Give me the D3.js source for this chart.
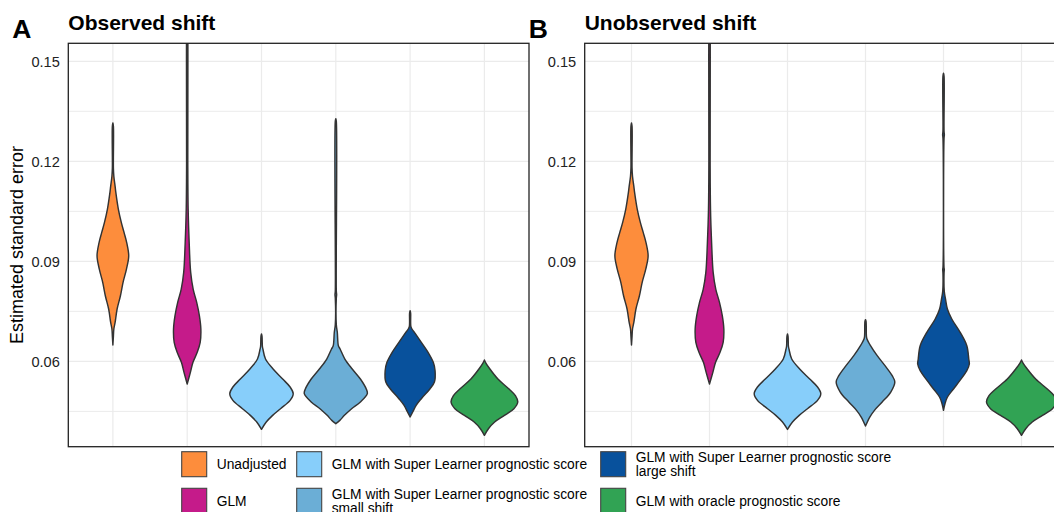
<!DOCTYPE html>
<html>
<head>
<meta charset="utf-8">
<script src="https://cdn.jsdelivr.net/npm/d3@7"></script>
<style>
  body { margin: 0; background: #fff; }
  svg { display: block; font-family: "Liberation Sans", Arial, Helvetica, sans-serif; }
</style>
</head>
<body>
<svg id="chart" width="1054" height="512"></svg>
<script>
// categories and fill colours
var methods = [
  "Unadjusted",
  "GLM",
  "GLM with Super Learner prognostic score",
  "GLM with Super Learner prognostic score\nsmall shift",
  "GLM with Super Learner prognostic score\nlarge shift",
  "GLM with oracle prognostic score"
];
var colors = ["#FD8D3C", "#C51B8A", "#87CEFA", "#6BAED6", "#08519C", "#31A354"];

var yTicks = [0.06, 0.09, 0.12, 0.15];
var yMinor = [0.045, 0.075, 0.105, 0.135];
var yDomain = [0.0344, 0.1554];

// violin outlines: [standard error, half width in category units]
var unadjusted = [[0.1315,0],[0.1305,0.007],[0.118,0.007],[0.1155,0.013],[0.1125,0.03],[0.1106,0.04],
  [0.1056,0.074],[0.1016,0.114],[0.0986,0.151],[0.0956,0.186],[0.0916,0.213],[0.0876,0.182],
  [0.0837,0.137],[0.0796,0.101],[0.0757,0.057],[0.0717,0.03],[0.0697,0.013],[0.0675,0.007],[0.0649,0]];
var glm = [[0.19,0],[0.185,0.008],[0.12,0.008],[0.1056,0.013],[0.0956,0.027],[0.0867,0.047],
  [0.0816,0.081],[0.0777,0.128],[0.0737,0.164],[0.0697,0.184],[0.0657,0.175],[0.0627,0.135],
  [0.0597,0.078],[0.0567,0.043],[0.0532,0]];
var slScore = [[0.0682,0],[0.0675,0.007],[0.0645,0.012],[0.0637,0.019],[0.0607,0.054],[0.0577,0.156],
  [0.0547,0.285],[0.0523,0.385],[0.0503,0.427],[0.0483,0.385],[0.0458,0.256],[0.0438,0.15],
  [0.0418,0.064],[0.0396,0]];
var oracle = [[0.0604,0],[0.0595,0.02],[0.0577,0.074],[0.0547,0.182],[0.0517,0.331],[0.0497,0.417],
  [0.0478,0.449],[0.0458,0.397],[0.0438,0.269],[0.0418,0.138],[0.0398,0.054],[0.0378,0]];
var smallObserved = [[0.1328,0],[0.132,0.007],[0.081,0.007],[0.08,0.011],[0.079,0.007],[0.071,0.007],
  [0.0688,0.02],[0.0647,0.035],[0.0637,0.058],[0.0607,0.122],[0.0577,0.221],[0.0547,0.331],
  [0.0517,0.41],[0.0503,0.424],[0.0478,0.331],[0.0458,0.213],[0.0438,0.116],[0.0423,0.054],[0.0413,0]];
var largeObserved = [[0.0752,0],[0.0745,0.007],[0.0705,0.01],[0.0697,0.025],[0.0687,0.058],[0.0657,0.151],
  [0.0627,0.242],[0.0597,0.312],[0.0572,0.336],[0.0538,0.327],[0.0517,0.266],[0.0488,0.151],
  [0.0468,0.081],[0.0448,0.035],[0.0433,0]];
var smallUnobserved = [[0.0725,0],[0.072,0.007],[0.0675,0.012],[0.0667,0.019],[0.0647,0.064],[0.0617,0.15],
  [0.0587,0.25],[0.0557,0.342],[0.0538,0.376],[0.0508,0.324],[0.0478,0.214],[0.0453,0.115],
  [0.0433,0.055],[0.0406,0]];
var largeUnobserved = [[0.1464,0],[0.1455,0.007],[0.129,0.007],[0.128,0.011],[0.127,0.007],[0.088,0.007],
  [0.0876,0.01],[0.0865,0.007],[0.081,0.01],[0.0787,0.026],[0.0757,0.05],[0.0727,0.106],
  [0.0687,0.214],[0.0647,0.299],[0.0607,0.324],[0.0592,0.331],[0.0572,0.299],[0.0542,0.209],
  [0.0517,0.128],[0.0493,0.051],[0.0473,0.019],[0.0453,0]];

var panelTags = ["A", "B"];
var panelTitles = ["Observed shift", "Unobserved shift"];
var panelViolins = [
  [unadjusted, glm, slScore, smallObserved, largeObserved, oracle],
  [unadjusted, glm, slScore, smallUnobserved, largeUnobserved, oracle]
];

// layout
var plotTop = 43.3, plotBottom = 446.7;
var panelLeft = [68.3, 584.7],
    panelRight = [529, 1068.3];

var svg = d3.select("#chart");

var y = d3.scaleLinear().domain(yDomain).range([plotBottom, plotTop]);

panelTags.forEach(function(tag, p) {
  var x = d3.scalePoint()
      .domain(methods)
      .range([panelLeft[p], panelRight[p]])
      .padding(0.6);
  var step = x.step();

  var g = svg.append("g");

  g.append("clipPath").attr("id", "clip" + p)
    .append("rect")
      .attr("x", panelLeft[p]).attr("y", plotTop)
      .attr("width", panelRight[p] - panelLeft[p]).attr("height", plotBottom - plotTop);

  // grid
  g.selectAll(".minor").data(yMinor).enter().append("line")
    .attr("x1", panelLeft[p]).attr("x2", panelRight[p])
    .attr("y1", function(d) { return y(d); }).attr("y2", function(d) { return y(d); })
    .attr("stroke", "#EBEBEB").attr("stroke-width", 1);
  g.selectAll(".major").data(yTicks).enter().append("line")
    .attr("x1", panelLeft[p]).attr("x2", panelRight[p])
    .attr("y1", function(d) { return y(d); }).attr("y2", function(d) { return y(d); })
    .attr("stroke", "#EBEBEB").attr("stroke-width", 1.2);
  g.selectAll(".vgrid").data(methods).enter().append("line")
    .attr("x1", function(d) { return x(d); }).attr("x2", function(d) { return x(d); })
    .attr("y1", plotTop).attr("y2", plotBottom)
    .attr("stroke", "#EBEBEB").attr("stroke-width", 1.2);

  // violins
  var vg = g.append("g").attr("clip-path", "url(#clip" + p + ")");
  panelViolins[p].forEach(function(prof, i) {
    var cx = x(methods[i]);
    var area = d3.area()
      .y(function(d) { return y(d[0]); })
      .x0(function(d) { return cx - d[1] * step; })
      .x1(function(d) { return cx + d[1] * step; })
      .curve(d3.curveCatmullRom.alpha(0.5));
    vg.append("path")
      .attr("d", area(prof))
      .attr("fill", colors[i])
      .attr("stroke", "#333")
      .attr("stroke-width", 1.45)
      .attr("stroke-linejoin", "round");
  });

  // border
  g.append("rect")
    .attr("x", panelLeft[p]).attr("y", plotTop)
    .attr("width", panelRight[p] - panelLeft[p]).attr("height", plotBottom - plotTop)
    .attr("fill", "none").attr("stroke", "#222").attr("stroke-width", 1.3);

  // y axis labels
  g.selectAll(".tick").data(yTicks).enter().append("text")
    .attr("x", panelLeft[p] - 8.5)
    .attr("y", function(d) { return y(d); })
    .attr("dy", "0.36em")
    .attr("text-anchor", "end")
    .attr("font-size", 14.6)
    .attr("fill", "#222")
    .text(function(d) { return d3.format(".2f")(d); });

  // title and tag
  g.append("text")
    .attr("x", panelLeft[p]).attr("y", 29.5)
    .attr("font-size", 21).attr("font-weight", "bold")
    .text(panelTitles[p]);
  g.append("text")
    .attr("x", panelLeft[p] - 56).attr("y", 38.3)
    .attr("font-size", 26.5).attr("font-weight", "bold")
    .text(tag);
});

svg.append("text")
  .attr("transform", "translate(23.3," + ((plotTop + plotBottom) / 2) + ") rotate(-90)")
  .attr("text-anchor", "middle")
  .attr("font-size", 18)
  .text("Estimated standard error");

// legend: 3 columns, 2 rows, filled by column
var legendCols = [181.7, 296.7, 600.7];
var legendRows = [451.7, 488.3];
var keySize = 25;

methods.forEach(function(m, i) {
  var cx = legendCols[Math.floor(i / 2)], ry = legendRows[i % 2];
  var lg = svg.append("g");
  lg.append("rect")
    .attr("x", cx).attr("y", ry)
    .attr("width", keySize).attr("height", keySize)
    .attr("fill", colors[i]).attr("stroke", "#444").attr("stroke-width", 1.1);
  var lines = m.split("\n");
  var lh = 14;
  lines.forEach(function(t, k) {
    lg.append("text")
      .attr("x", cx + keySize + 10)
      .attr("y", ry + keySize / 2 + (k - (lines.length - 1) / 2) * lh)
      .attr("dy", "0.35em")
      .attr("font-size", 13.8)
      .text(t);
  });
});
</script>
</body>
</html>
